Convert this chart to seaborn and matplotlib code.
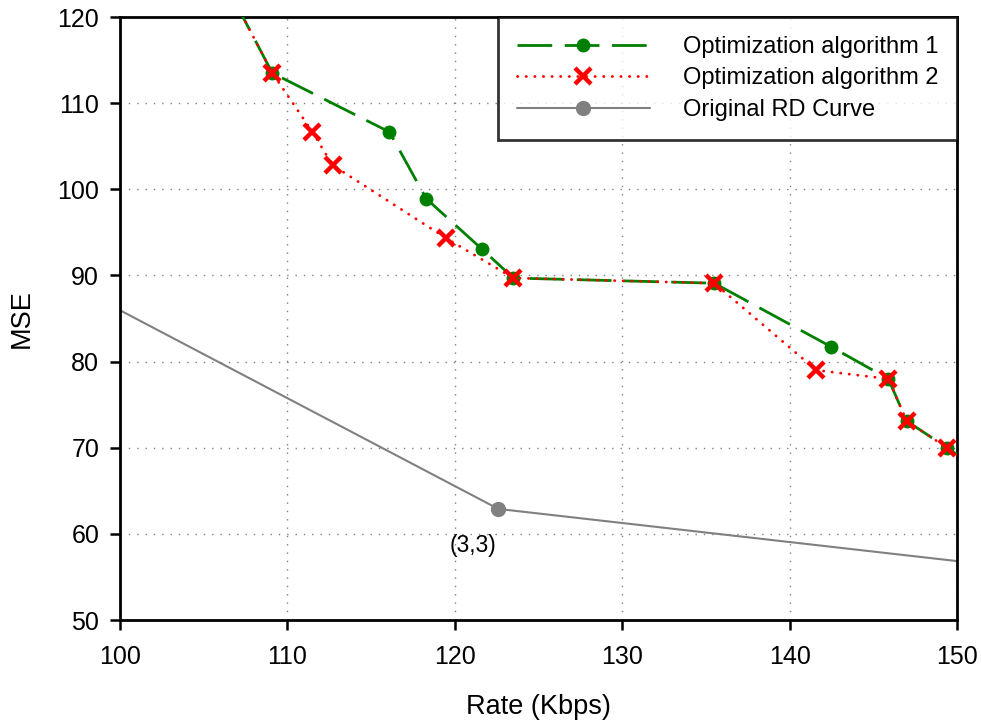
import matplotlib
matplotlib.use("Agg")
import matplotlib.pyplot as plt
import seaborn as sns
import numpy as np

# Data
alg1_rate = [106.4, 109.1, 116.1, 118.3, 121.6, 123.5, 135.5, 142.5, 145.9, 147.0, 149.4, 152.0]
alg1_mse  = [123.5, 113.5, 106.65, 98.9, 93.1, 89.7, 89.1, 81.7, 78.0, 73.1, 70.0, 66.6]
alg2_rate = [106.4, 109.1, 111.5, 112.7, 119.5, 123.5, 135.5, 141.6, 145.9, 147.0, 149.4, 152.0]
alg2_mse  = [123.5, 113.5, 106.65, 102.8, 94.3, 89.7, 89.1, 79.0, 78.0, 73.1, 70.0, 66.6]
orig_rate = [98.0, 122.6, 152.0]
orig_mse  = [88.0, 62.9, 56.4]
orig_marker_idx = [1]

x_ticks = [100, 110, 120, 130, 140, 150]
y_ticks = [50, 60, 70, 80, 90, 100, 110, 120]
labels = ["Optimization algorithm 1", "Optimization algorithm 2", "Original RD Curve"]
annot_text = "(3,3)"

sns.set_theme(style="white")
plt.rcParams['font.family'] = ['Liberation Sans', 'DejaVu Sans']
plt.rcParams['text.color'] = 'black'
plt.rcParams['axes.labelcolor'] = 'black'
plt.rcParams['xtick.color'] = 'black'
plt.rcParams['ytick.color'] = 'black'

fig = plt.figure(figsize=(9.81, 7.24), dpi=100)
ax = fig.add_axes([0.1223, 0.1436, 0.8532, 0.8329])

GREEN = "#008000"
RED = "#ff0000"
GRAY = "#808080"

n1 = len(alg1_rate)
sns.lineplot(x=alg1_rate, y=alg1_mse, ax=ax, sort=False, color=GREEN,
             linewidth=2.0, linestyle=(0, (12.5, 4.5)), marker="o", markersize=10,
             markeredgewidth=0, markerfacecolor=GREEN, markeredgecolor=GREEN,
             markevery=list(range(1, n1 - 1)), label=labels[0], zorder=3)
sns.lineplot(x=alg2_rate, y=alg2_mse, ax=ax, sort=False, color=RED,
             linewidth=2.0, linestyle=(0, (0.1, 3.0)), dash_capstyle="round",
             marker="x", markersize=11, markeredgewidth=3.2,
             markeredgecolor=RED, markerfacecolor=RED,
             markevery=list(range(1, len(alg2_rate) - 1)), label=labels[1], zorder=4)
sns.lineplot(x=orig_rate, y=orig_mse, ax=ax, sort=False, color=GRAY,
             linewidth=1.5, marker="o", markersize=11, markeredgewidth=0,
             markerfacecolor=GRAY, markeredgecolor=GRAY,
             markevery=orig_marker_idx, label=labels[2], zorder=2)

ax.annotate(annot_text, xy=(orig_rate[1], orig_mse[1]), xytext=(-18, -26),
            textcoords="offset points", ha="center", va="center", fontsize=16.5,
            color="black")

ax.set_xlim(100, 150)
ax.set_ylim(50, 120)
ax.set_xticks(x_ticks)
ax.set_yticks(y_ticks)
ax.tick_params(axis="both", direction="out", length=7, width=1.8, color="black",
               labelcolor="black", labelsize=18, left=True, bottom=True)
ax.tick_params(axis="x", pad=11)
ax.tick_params(axis="y", pad=8)
ax.grid(True, color="#808080", linestyle=(0, (1, 5)), linewidth=1.0)
for s in ax.spines.values():
    s.set_color("black")
    s.set_linewidth(2)
    s.set_visible(True)

ax.set_xlabel("Rate (Kbps)", fontsize=19.5, labelpad=18, color="black")
ax.set_ylabel("MSE", fontsize=19.5, labelpad=16, color="black")

leg = ax.legend(loc="upper right", borderaxespad=0, fontsize=17, handlelength=5.6,
                handletextpad=1.4, frameon=True, fancybox=False, borderpad=0.8,
                labelspacing=0.4, markerscale=1.0)
leg.get_frame().set_edgecolor("black")
leg.get_frame().set_linewidth(2)
leg.set_zorder(10)
for t in leg.get_texts():
    t.set_color("black")

fig.savefig("out.png", dpi=100, facecolor="white")
